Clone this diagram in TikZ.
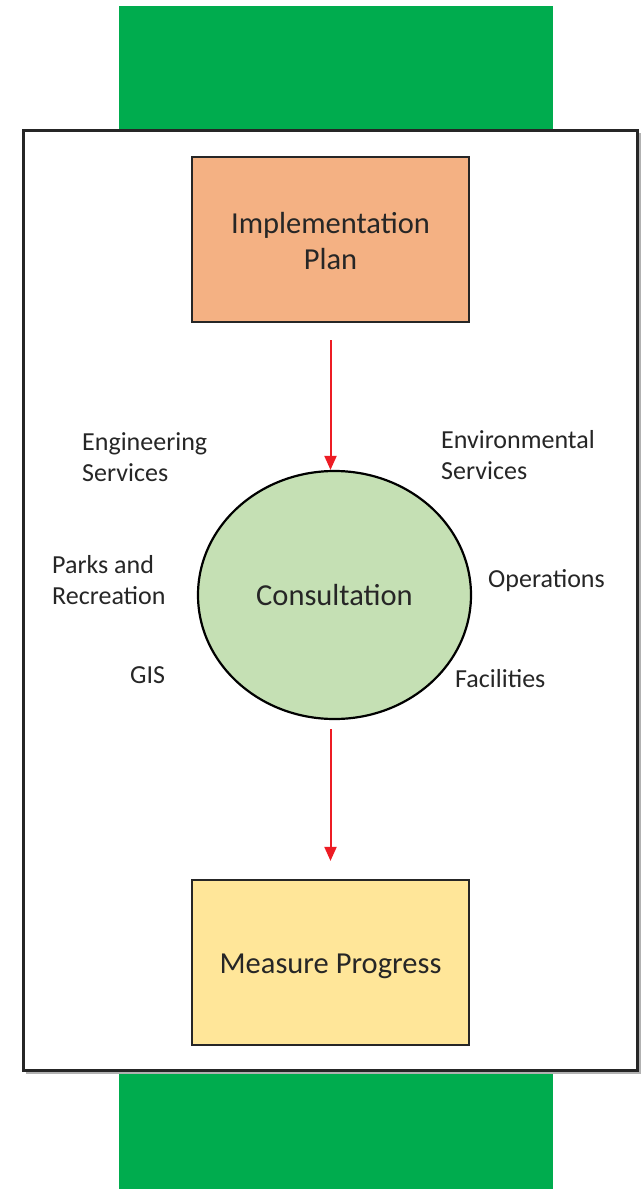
\documentclass[tikz,border=0pt]{standalone}
\usepackage{fontspec}
\setmainfont{Carlito}
\usetikzlibrary{shapes.geometric,arrows.meta}
\definecolor{bargreen}{HTML}{00AC4E}
\definecolor{planfill}{HTML}{F4B183}
\definecolor{consfill}{HTML}{C5E0B4}
\definecolor{measfill}{HTML}{FFE699}
\definecolor{arrred}{HTML}{ED1C24}
\definecolor{ink}{HTML}{262626}
\tikzset{
  stagebox/.style={draw=ink, line width=2.2pt, minimum width=277pt, minimum height=165pt,
    align=center, font=\fontsize{30.5}{36}\selectfont, text=ink, inner sep=0pt},
  consell/.style={ellipse, draw=black, line width=2.2pt, fill=consfill, minimum width=273pt,
    minimum height=248pt, inner sep=0pt, font=\fontsize{30.5}{36}\selectfont, text=ink},
  redarrow/.style={draw=arrred, line width=2pt, -{Triangle[width=12pt,length=14pt]}},
  deptlabel/.style={align=left, anchor=base west, inner sep=0pt, text=ink,
    font=\fontsize{26}{31}\selectfont},
  bar/.style={fill=bargreen, draw=none}
}
\begin{document}
\begin{tikzpicture}[x=1pt,y=-1pt]
\useasboundingbox (0,0) rectangle (644,1190);
% green bars
\path[bar] (119,6) rectangle (553,131);
\path[bar] (119,1071) rectangle (553,1189);
% frame with light shadow
\draw[gray!60, line width=1.2pt] (26,1073) -- (640,1073) -- (640,133);
\draw[ink, line width=2.2pt, fill=white] (23.5,130.5) rectangle (637.5,1070.5);
% stages
\node[stagebox, fill=planfill] (plan) at (330.5,239.5) {\raisebox{-7.5pt}[0pt][0pt]{\parbox{277pt}{\centering Implementation\\Plan}}};
\node[consell] (cons) at (334.5,595) {Consultation};
\node[stagebox, fill=measfill] (meas) at (330.5,962.5) {\raisebox{-10.5pt}[0pt][0pt]{Measure Progress}};
% arrows
\draw[redarrow, shorten <=17pt] (plan.south) -- (plan.south |- cons.north);
\coordinate (a2start) at (330.5,729);
\draw[redarrow, shorten >=18pt] (a2start) -- (meas.north);
% department labels (base = baseline of last line)
\node[deptlabel] (eng) at (82,481) {Engineering\\Services};
\node[deptlabel] (env) at (441,479) {Environmental\\Services};
\node[deptlabel] (parks) at (52,604) {Parks and\\Recreation};
\node[deptlabel] (ops) at (488,587) {Operations};
\node[deptlabel] (gis) at (130,683) {GIS};
\node[deptlabel] (fac) at (455,687) {Facilities};
\end{tikzpicture}
\end{document}
